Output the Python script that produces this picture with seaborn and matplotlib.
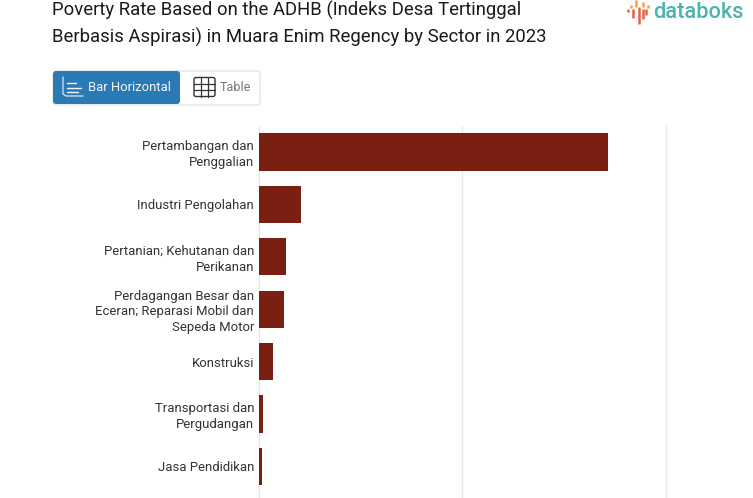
import matplotlib
matplotlib.use('Agg')
import matplotlib.pyplot as plt
from matplotlib.patches import FancyBboxPatch
import pandas as pd
import seaborn as sns

title_lines = ['Poverty Rate Based on the ADHB (Indeks Desa Tertinggal',
               'Berbasis Aspirasi) in Muara Enim Regency by Sector in 2023']
sectors = ['Pertambangan dan\nPenggalian', 'Industri Pengolahan',
           'Pertanian; Kehutanan dan\nPerikanan',
           'Perdagangan Besar dan\nEceran; Reparasi Mobil dan\nSepeda Motor',
           'Konstruksi', 'Transportasi dan\nPergudangan', 'Jasa Pendidikan']
# values, the chart has no value labels
rates = [1.715, 0.21, 0.135, 0.125, 0.0735, 0.0245, 0.0167]
grid_ticks = [0, 1, 2]

sns.set_theme(style='white')
plt.rcParams['font.family'] = ['Roboto', 'DejaVu Sans']

df = pd.DataFrame({'sector': sectors, 'rate': rates})

fig = plt.figure(figsize=(7.53, 4.98), dpi=100)
W, H = 753, 498
top, bottom, left, right = 126, 498, 258.5, 666.5
ax = fig.add_axes([left / W, 1 - bottom / H, (right - left) / W, (bottom - top) / H])
sns.barplot(data=df, x='rate', y='sector', color='#7a2012', saturation=1,
            width=0.71, ax=ax)
ax.set_axisbelow(True)
for bar in ax.patches:
    bar.set_zorder(6)
    bar.set_linewidth(0)
ax.set_xlim(0, 2)
ax.set_ylim(6.605, -0.495)
ax.set_xticks(grid_ticks)
ax.set_xticklabels([])
ax.set_xlabel('')
ax.set_ylabel('')
ax.grid(axis='x', color='#e6e6e6', lw=0.9)
for line in ax.get_xgridlines():
    line.set_clip_on(False)
ax.tick_params(axis='y', length=0, pad=3.2, labelsize=9.45, labelcolor='#333333')
for lab in ax.get_yticklabels():
    lab.set_linespacing(1.27)
sns.despine(ax=ax, top=True, right=True, bottom=True, left=True)

# overlay in pixel coordinates for the header, buttons and logo
ui = fig.add_axes([0, 0, 1, 1], zorder=5)
ui.set_xlim(0, W)
ui.set_ylim(H, 0)
ui.axis('off')

ui.text(52, 10, title_lines[0], fontsize=13.35, color='#1a1a1a', va='center')
ui.text(52, 37, title_lines[1], fontsize=13.35, color='#1a1a1a', va='center')

ui.add_patch(FancyBboxPatch((53, 71), 207, 34, boxstyle='round,pad=0,rounding_size=3',
                            fc='white', ec='#e0e0e0', lw=0.8))
ui.add_patch(FancyBboxPatch((53, 71), 127, 33, boxstyle='round,pad=0,rounding_size=3',
                            fc='#2a7ab5', ec='none'))
ui.text(88, 87.5, 'Bar Horizontal', fontsize=9.35, color='#f2f6fa', va='center')
ui.text(220, 87.5, 'Table', fontsize=9.1, color='#777777', va='center')

# bar icon
ui.plot([63, 63, 66, 83], [77, 94, 96, 96], color='#dbe8f3', lw=0.9)
for y, x1 in [(83, 76), (87.5, 81), (92, 78)]:
    ui.plot([67, x1], [y, y], color='#f2f6fa', lw=1)

# table icon
ui.add_patch(FancyBboxPatch((194, 77.5), 21, 19, boxstyle='round,pad=0,rounding_size=2',
                            fc='none', ec='#333333', lw=1))
for x in [201, 208]:
    ui.plot([x, x], [77.5, 96.5], color='#333333', lw=0.9)
for y in [84, 90]:
    ui.plot([194, 215], [y, y], color='#333333', lw=0.9)

# logo
for x, y0, y1, c in [(628.5, 9, 12, '#e8604c'), (631.5, 5, 7.5, '#f0a04b'), (633, 9, 18, '#e8604c'),
                     (636.5, 0, 7, '#f0a04b'), (639.5, 7, 24, '#e8604c'), (643, 2, 7, '#f0a04b'),
                     (643, 9, 19, '#e8604c'), (648.5, 5, 7.5, '#f0a04b'), (646, 9, 15, '#e8604c')]:
    ui.plot([x, x], [y0, y1], color=c, lw=1.8, solid_capstyle='butt')
ui.text(653, 12, 'databoks', fontsize=15.7, color='#4db3ad', va='center', weight='medium')

fig.savefig('out.png', dpi=100, facecolor='white')
